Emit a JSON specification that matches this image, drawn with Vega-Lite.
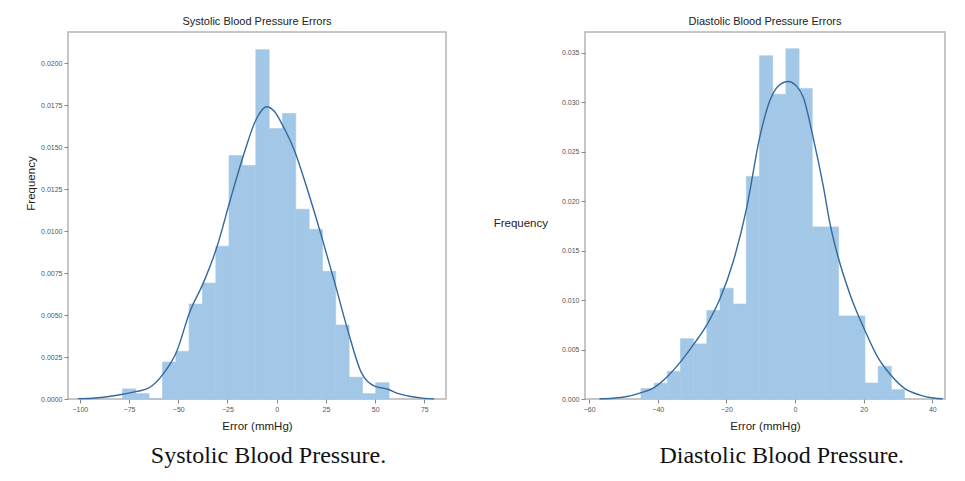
{
  "$schema": "https://vega.github.io/schema/vega-lite/v6.json",
  "background": "white",
  "padding": {"left": 24, "top": 15, "right": 0, "bottom": 0},
  "spacing": 45,
  "config": {
    "view": {"stroke": "#b5b5b5", "strokeWidth": 1.5},
    "axis": {"domain": false, "grid": false, "tickColor": "#888", "tickSize": 4, "labelFontSize": 7, "labelColor": "#555", "labelFont": "Liberation Sans", "labelPadding": 2, "titleFont": "Liberation Sans", "titleFontWeight": "normal", "titleFontSize": 11.5, "titleColor": "#222"},
    "title": {"font": "Liberation Sans", "fontSize": 11, "fontWeight": "normal", "color": "#222", "offset": 5}
  },
  "datasets": {
    "sys_hist": [
      {"x0": -78.3, "x1": -71.5, "density": 0.0006},
      {"x0": -71.5, "x1": -64.8, "density": 0.00032},
      {"x0": -64.8, "x1": -58.0, "density": 0},
      {"x0": -58.0, "x1": -51.2, "density": 0.0022},
      {"x0": -51.2, "x1": -44.5, "density": 0.00284},
      {"x0": -44.5, "x1": -37.7, "density": 0.00566},
      {"x0": -37.7, "x1": -30.9, "density": 0.0069},
      {"x0": -30.9, "x1": -24.2, "density": 0.0091},
      {"x0": -24.2, "x1": -17.4, "density": 0.0145},
      {"x0": -17.4, "x1": -10.6, "density": 0.0139},
      {"x0": -10.6, "x1": -3.8, "density": 0.0208},
      {"x0": -3.8, "x1": 2.9, "density": 0.0161},
      {"x0": 2.9, "x1": 9.7, "density": 0.0170},
      {"x0": 9.7, "x1": 16.5, "density": 0.0113},
      {"x0": 16.5, "x1": 23.3, "density": 0.0101},
      {"x0": 23.3, "x1": 30.0, "density": 0.0076},
      {"x0": 30.0, "x1": 36.8, "density": 0.0044},
      {"x0": 36.8, "x1": 43.6, "density": 0.0013},
      {"x0": 43.6, "x1": 50.3, "density": 0.00032},
      {"x0": 50.3, "x1": 57.1, "density": 0.00097}
    ],
    "sys_kde": [
      {"x": -101, "density": 0.00002},
      {"x": -92, "density": 0.00006},
      {"x": -83.4, "density": 0.00018},
      {"x": -78.3, "density": 0.00028},
      {"x": -71, "density": 0.00045},
      {"x": -64.8, "density": 0.00067},
      {"x": -57.6, "density": 0.0015},
      {"x": -50.9, "density": 0.0028},
      {"x": -44.1, "density": 0.0052},
      {"x": -37.3, "density": 0.0069},
      {"x": -30.5, "density": 0.0090},
      {"x": -23.7, "density": 0.0118},
      {"x": -16.9, "density": 0.0145},
      {"x": -10.2, "density": 0.0167},
      {"x": -5.2, "density": 0.0174},
      {"x": -1, "density": 0.0171},
      {"x": 3, "density": 0.0163},
      {"x": 9.0, "density": 0.0148},
      {"x": 15.8, "density": 0.0124},
      {"x": 22.5, "density": 0.0098},
      {"x": 29.3, "density": 0.0070},
      {"x": 36.1, "density": 0.0041},
      {"x": 42.9, "density": 0.0016},
      {"x": 49.7, "density": 0.00077},
      {"x": 56.5, "density": 0.00058},
      {"x": 61, "density": 0.00035},
      {"x": 66.6, "density": 0.00018},
      {"x": 75.1, "density": 0.00004},
      {"x": 80, "density": 0.00001}
    ],
    "dia_hist": [
      {"x0": -44.9, "x1": -41.06, "density": 0.00105},
      {"x0": -41.06, "x1": -37.22, "density": 0.0016},
      {"x0": -37.22, "x1": -33.38, "density": 0.0028},
      {"x0": -33.38, "x1": -29.54, "density": 0.0061},
      {"x0": -29.54, "x1": -25.7, "density": 0.00557},
      {"x0": -25.7, "x1": -21.86, "density": 0.00895},
      {"x0": -21.86, "x1": -18.02, "density": 0.0112},
      {"x0": -18.02, "x1": -14.18, "density": 0.0096},
      {"x0": -14.18, "x1": -10.34, "density": 0.0225},
      {"x0": -10.34, "x1": -6.5, "density": 0.0347},
      {"x0": -6.5, "x1": -2.66, "density": 0.0308},
      {"x0": -2.66, "x1": 1.18, "density": 0.0354},
      {"x0": 1.18, "x1": 5.02, "density": 0.0314},
      {"x0": 5.02, "x1": 8.86, "density": 0.0174},
      {"x0": 8.86, "x1": 12.7, "density": 0.0174},
      {"x0": 12.7, "x1": 16.54, "density": 0.0084},
      {"x0": 16.54, "x1": 20.38, "density": 0.0084},
      {"x0": 20.38, "x1": 24.22, "density": 0.00162},
      {"x0": 24.22, "x1": 28.06, "density": 0.00331},
      {"x0": 28.06, "x1": 31.9, "density": 0.00095}
    ],
    "dia_kde": [
      {"x": -57, "density": 0.00002},
      {"x": -53, "density": 0.00008},
      {"x": -49, "density": 0.00025},
      {"x": -45.2, "density": 0.0006},
      {"x": -41.3, "density": 0.0011},
      {"x": -37.4, "density": 0.0022},
      {"x": -33.5, "density": 0.0037},
      {"x": -29.6, "density": 0.0055},
      {"x": -25.7, "density": 0.0075},
      {"x": -21.9, "density": 0.0101},
      {"x": -18.0, "density": 0.0139},
      {"x": -14.1, "density": 0.0193},
      {"x": -10.2, "density": 0.0266},
      {"x": -7.3, "density": 0.0302},
      {"x": -5, "density": 0.0316},
      {"x": -2, "density": 0.0321},
      {"x": 0.5, "density": 0.0316},
      {"x": 2.4, "density": 0.0305},
      {"x": 5.3, "density": 0.0264},
      {"x": 8.3, "density": 0.0214},
      {"x": 10.2, "density": 0.0177},
      {"x": 12.6, "density": 0.0143},
      {"x": 16.0, "density": 0.0106},
      {"x": 20.4, "density": 0.0069},
      {"x": 24.3, "density": 0.0041},
      {"x": 27.7, "density": 0.0025},
      {"x": 31.8, "density": 0.0011},
      {"x": 36.4, "density": 0.0004},
      {"x": 40.3, "density": 0.0001},
      {"x": 43, "density": 0.00002}
    ]
  },
  "hconcat": [
    {
      "title": {"text": "Systolic Blood Pressure.", "orient": "bottom", "anchor": "start", "dx": 126, "font": "Liberation Serif", "fontSize": 24, "color": "#111", "offset": 12},
      "vconcat": [
        {
          "title": "Systolic Blood Pressure Errors",
          "width": 378,
          "height": 367,
          "layer": [
            {
              "data": {"name": "sys_hist"},
              "mark": {"type": "rect", "color": "#a3c7e7", "stroke": "#a3c7e7", "strokeWidth": 0.6, "opacity": 1},
              "encoding": {
                "x": {"field": "x0", "type": "quantitative", "scale": {"domain": [-106, 86], "nice": false, "zero": false}, "axis": {"values": [-100, -75, -50, -25, 0, 25, 50, 75], "title": "Error (mmHg)", "titlePadding": 8}},
                "x2": {"field": "x1"},
                "y": {"field": "density", "type": "quantitative", "scale": {"domain": [0, 0.02185], "nice": false}, "axis": {"values": [0, 0.0025, 0.005, 0.0075, 0.01, 0.0125, 0.015, 0.0175, 0.02], "format": ".4f", "title": "Frequency", "titleY": 151, "titlePadding": 4}},
                "y2": {"datum": 0}
              }
            },
            {
              "data": {"name": "sys_kde"},
              "mark": {"type": "line", "color": "#33699b", "strokeWidth": 1.4, "interpolate": "monotone"},
              "encoding": {
                "x": {"field": "x", "type": "quantitative"},
                "y": {"field": "density", "type": "quantitative"}
              }
            }
          ]
        }
      ]
    },
    {
      "title": {"text": "Diastolic Blood Pressure.", "orient": "bottom", "anchor": "start", "dx": 167, "font": "Liberation Serif", "fontSize": 24, "color": "#111", "offset": 12},
      "vconcat": [
        {
          "title": "Diastolic Blood Pressure Errors",
          "width": 360,
          "height": 367,
          "layer": [
            {
              "data": {"name": "dia_hist"},
              "mark": {"type": "rect", "color": "#a3c7e7", "stroke": "#a3c7e7", "strokeWidth": 0.6, "opacity": 1},
              "encoding": {
                "x": {"field": "x0", "type": "quantitative", "scale": {"domain": [-61.2, 43.7], "nice": false, "zero": false}, "axis": {"values": [-60, -40, -20, 0, 20, 40], "title": "Error (mmHg)", "titlePadding": 8}},
                "x2": {"field": "x1"},
                "y": {"field": "density", "type": "quantitative", "scale": {"domain": [0, 0.0371], "nice": false}, "axis": {"values": [0, 0.005, 0.01, 0.015, 0.02, 0.025, 0.03, 0.035], "format": ".3f", "title": "Frequency", "titleAngle": 0, "titleAlign": "right", "titleBaseline": "middle", "titleY": 191, "titlePadding": 14}},
                "y2": {"datum": 0}
              }
            },
            {
              "data": {"name": "dia_kde"},
              "mark": {"type": "line", "color": "#33699b", "strokeWidth": 1.4, "interpolate": "monotone"},
              "encoding": {
                "x": {"field": "x", "type": "quantitative"},
                "y": {"field": "density", "type": "quantitative"}
              }
            }
          ]
        }
      ]
    }
  ]
}
